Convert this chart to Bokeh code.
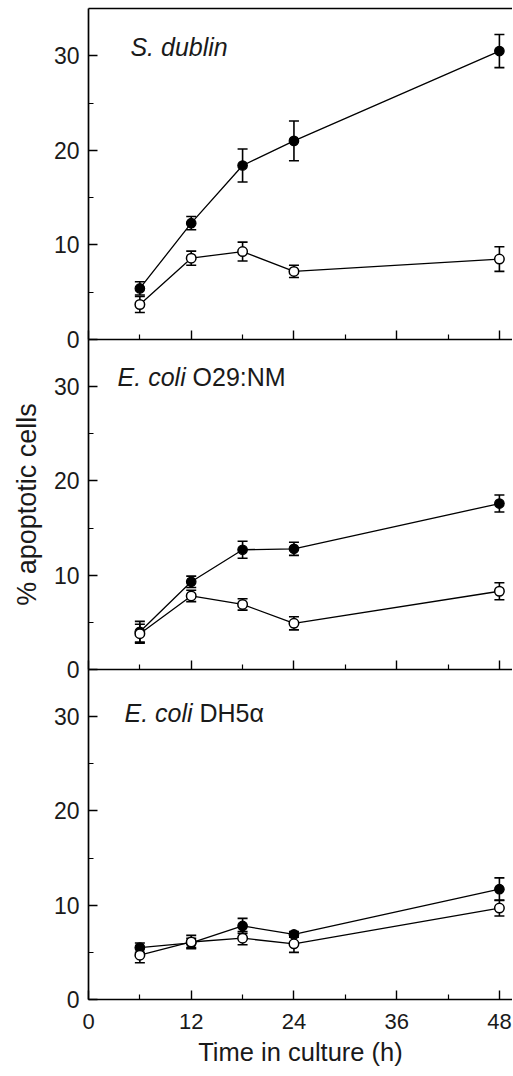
from bokeh.plotting import figure
from bokeh.models import (ColumnDataSource, Whisker, TeeHead, FixedTicker,
                          LinearAxis, Label, Range1d)
from bokeh.layouts import column
from bokeh.embed import file_html
from bokeh.resources import INLINE

# ---------------- data ----------------
time_h = [6, 12, 18, 24, 48]

# S. dublin
sd_filled = [5.4, 12.3, 18.4, 21.0, 30.5]
sd_filled_err = [0.7, 0.7, 1.75, 2.1, 1.75]
sd_open = [3.7, 8.6, 9.3, 7.2, 8.5]
sd_open_err = [0.85, 0.75, 1.0, 0.65, 1.3]

# E. coli O29:NM
o29_filled = [4.0, 9.3, 12.7, 12.8, 17.6]
o29_filled_err = [1.1, 0.6, 0.9, 0.7, 0.9]
o29_open = [3.8, 7.8, 6.9, 4.9, 8.3]
o29_open_err = [1.0, 0.6, 0.6, 0.7, 0.9]

# E. coli DH5alpha
dh5_filled = [5.5, 6.0, 7.8, 6.9, 11.7]
dh5_filled_err = [0.5, 0.5, 0.8, 0.3, 1.2]
dh5_open = [4.7, 6.1, 6.5, 5.9, 9.7]
dh5_open_err = [0.8, 0.7, 0.7, 0.9, 0.85]

y_ticks = [0, 10, 20, 30]
y_minor = [5, 15, 25]
x_ticks = [0, 12, 24, 36, 48]
x_minor = [6, 18, 30, 42]

x_title = "Time in culture (h)"
y_title = "% apoptotic cells"

FONT = "Liberation Sans"
TXT = "#1a1a1a"
OVER = 14  # px of overlap between stacked panels


def style_axis(ax, ticks, minor, show_labels, size="22px", standoff=10):
    ax.ticker = FixedTicker(ticks=ticks, minor_ticks=minor)
    ax.axis_line_color = "black"
    ax.axis_line_width = 1.7
    ax.major_tick_in = 9
    ax.major_tick_out = 0
    ax.minor_tick_in = 5
    ax.minor_tick_out = 0
    ax.major_tick_line_width = 1.4
    ax.minor_tick_line_width = 1.2
    ax.major_tick_line_color = "black"
    ax.minor_tick_line_color = "black"
    ax.major_label_text_font = FONT
    if show_labels:
        ax.major_label_text_color = TXT
        ax.major_label_text_font_size = size
        ax.major_label_standoff = standoff
    else:
        ax.major_label_text_color = None
        ax.major_label_text_font_size = "1px"
        ax.major_label_standoff = 0
    ax.axis_label_text_font = FONT
    ax.axis_label_text_font_style = "normal"
    ax.axis_label_text_color = TXT


def make_panel(filled, ferr, opn, oerr, italic_txt, plain_txt, lx, ly,
               plain_offset, fh, first=False, last=False, ylabel=None):
    p = figure(frame_width=424, frame_height=fh,
               x_range=Range1d(0, 49.53), y_range=Range1d(0, 35),
               output_backend="svg", toolbar_location=None,
               min_border_left=88, min_border_right=0,
               min_border_top=8 if first else 0,
               min_border_bottom=0 if last else OVER)
    if not first:
        p.margin = (-OVER, 0, 0, 0)
        p.border_fill_alpha = 0
        p.background_fill_alpha = 0
    p.outline_line_color = None
    p.grid.visible = False

    style_axis(p.yaxis[0], y_ticks, y_minor, True, size="23px", standoff=9)
    style_axis(p.xaxis[0], x_ticks, x_minor, last, size="22px", standoff=14)
    if ylabel:
        p.yaxis[0].axis_label = ylabel
        p.yaxis[0].axis_label_text_font_size = "27px"
        p.yaxis[0].axis_label_standoff = 9
    if last:
        p.xaxis[0].axis_label = x_title
        p.xaxis[0].axis_label_text_font_size = "25.5px"
        p.xaxis[0].axis_label_standoff = 6
    if first:
        top = LinearAxis(ticker=FixedTicker(ticks=[]))
        top.axis_line_width = 1.7
        top.major_label_text_color = None
        top.major_label_text_font_size = "1px"
        top.major_label_standoff = 0
        top.major_tick_out = 0
        top.minor_tick_out = 0
        p.add_layout(top, "above")

    fsrc = ColumnDataSource(dict(x=time_h, y=filled,
                                 up=[v + e for v, e in zip(filled, ferr)],
                                 lo=[v - e for v, e in zip(filled, ferr)]))
    osrc = ColumnDataSource(dict(x=time_h, y=opn,
                                 up=[v + e for v, e in zip(opn, oerr)],
                                 lo=[v - e for v, e in zip(opn, oerr)]))

    for src in (fsrc, osrc):
        w = Whisker(source=src, base="x", upper="up", lower="lo",
                    dimension="height", line_color="black", line_width=1.6,
                    upper_head=TeeHead(size=10, line_width=1.6, line_color="black"),
                    lower_head=TeeHead(size=10, line_width=1.6, line_color="black"),
                    level="underlay")
        p.add_layout(w)

    p.line("x", "y", source=fsrc, line_color="black", line_width=1.3)
    p.line("x", "y", source=osrc, line_color="black", line_width=1.3)
    p.scatter("x", "y", source=fsrc, size=9.5, marker="circle",
              fill_color="black", line_color="black", line_width=1.2)
    p.scatter("x", "y", source=osrc, size=9.5, marker="circle",
              fill_color="white", line_color="black", line_width=1.5)

    p.add_layout(Label(x=lx, y=ly, text=italic_txt, text_font=FONT,
                       text_font_style="italic", text_font_size="25px",
                       text_color=TXT, text_baseline="alphabetic"))
    if plain_txt:
        p.add_layout(Label(x=lx, y=ly, x_offset=plain_offset, text=plain_txt,
                           text_font=FONT, text_font_style="normal",
                           text_font_size="25px", text_color=TXT,
                           text_baseline="alphabetic"))
    return p


p1 = make_panel(sd_filled, sd_filled_err, sd_open, sd_open_err,
                "S. dublin", None, 4.9, 30.9, 0, 331, first=True)
p2 = make_panel(o29_filled, o29_filled_err, o29_open, o29_open_err,
                "E. coli", "O29:NM", 3.4, 31.05, 75, 330, ylabel=y_title)
p3 = make_panel(dh5_filled, dh5_filled_err, dh5_open, dh5_open_err,
                "E. coli", "DH5\u03b1", 4.2, 30.35, 75, 330, last=True)

layout = column(p1, p2, p3, spacing=0)
open("out.html", "w").write(file_html(layout, INLINE))
